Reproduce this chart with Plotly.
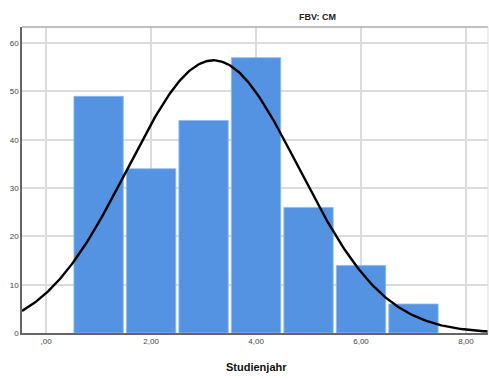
import numpy as np
import plotly.graph_objects as go

# Data
study_years = [1, 2, 3, 4, 5, 6, 7]
counts = [49, 34, 44, 57, 26, 14, 6]
x_tick_vals = [0, 2, 4, 6, 8]
x_tick_text = [",00", "2,00", "4,00", "6,00", "8,00"]
y_tick_vals = [0, 10, 20, 30, 40, 50, 60]
y_tick_text = ["0", "10", "20", "30", "40", "50", "60"]
title_text = "FBV: CM"
x_title = "Studienjahr"

# Normal curve fitted to the histogram data (as SPSS does)
vals = np.repeat(study_years, counts)
n = len(vals)
mu = vals.mean()
sd = vals.std(ddof=1)
xr = (-0.46, 8.42)
xs = np.linspace(xr[0], xr[1], 300)
ys = n * 1.0 * np.exp(-0.5 * ((xs - mu) / sd) ** 2) / (sd * np.sqrt(2 * np.pi))

fig = go.Figure()
fig.add_trace(go.Bar(
    x=study_years, y=counts, width=0.94,
    marker=dict(color="#5493e2", line=dict(color="#8fb8ee", width=0.8)),
    hoverinfo="skip",
))
fig.add_trace(go.Scatter(
    x=xs, y=ys, mode="lines",
    line=dict(color="black", width=2.4),
    hoverinfo="skip",
))

fig.update_layout(
    width=489, height=379,
    margin=dict(l=22, r=1, t=27, b=46),
    paper_bgcolor="white", plot_bgcolor="white",
    showlegend=False,
    font=dict(family="Liberation Sans, Arial, sans-serif", color="#333333"),
    annotations=[
        dict(text="<b>" + title_text + "</b>", xref="paper", yref="paper",
             x=(317 - 22) / 466, y=1, yshift=3, xanchor="center", yanchor="bottom",
             showarrow=False, font=dict(size=9, color="#222222")),
        dict(text="<b>" + x_title + "</b>", xref="paper", yref="paper",
             x=(256 - 22) / 466, y=0, yshift=-26, xanchor="center", yanchor="top",
             showarrow=False, font=dict(size=11, color="#111111")),
    ],
)
fig.update_xaxes(
    range=list(xr), tickvals=x_tick_vals, ticktext=x_tick_text,
    showgrid=True, gridcolor="#dcdcdc", gridwidth=1.5,
    showline=True, linecolor="#666666", linewidth=1.5, mirror=False,
    ticks="", tickfont=dict(size=8, color="#444444"), zeroline=False,
)
fig.update_yaxes(
    range=[0, 63.35], tickvals=y_tick_vals, ticktext=y_tick_text,
    showgrid=True, gridcolor="#dcdcdc", gridwidth=1.5,
    showline=True, linecolor="#666666", linewidth=1.5, mirror=False,
    ticks="", tickfont=dict(size=8, color="#444444"), zeroline=False,
)
# top border and right border
fig.add_shape(type="line", xref="paper", yref="paper", x0=0, x1=1, y0=1, y1=1,
              line=dict(color="#aaaaaa", width=1.5))
fig.add_shape(type="line", xref="paper", yref="paper", x0=1, x1=1, y0=0, y1=1,
              line=dict(color="#dddddd", width=1))

fig.write_html("out.html")
